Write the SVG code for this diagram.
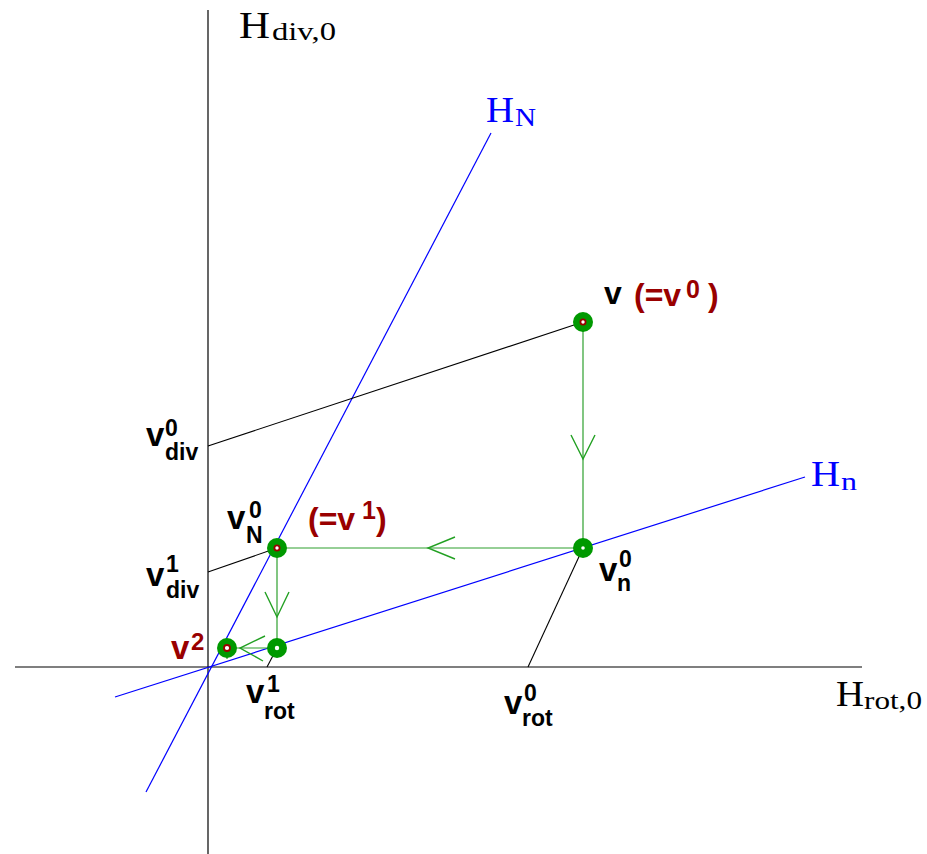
<svg xmlns="http://www.w3.org/2000/svg" width="927" height="854" viewBox="0 0 927 854">
<style>
.ax{stroke:#000;stroke-width:1.2;fill:none}
.bl{stroke:#0000ff;stroke-width:1.2;fill:none}
.pr{stroke:#000;stroke-width:1.1;fill:none}
.gl{stroke:#2ea02e;stroke-width:1.2;fill:none}
.ch{stroke:#22a022;stroke-width:1.4;fill:none}
.pt{fill:#009900}
.rr{fill:#fff;stroke:#990000;stroke-width:1.8}
.wd{fill:#fff}
.tm{font-family:"Liberation Serif","Times New Roman",serif}
.sb{font-family:"Liberation Sans",Arial,sans-serif;font-weight:bold}
.dr{fill:#990000}
</style>
<rect width="927" height="854" fill="#fff"/>
<g id="connectors">
  <line class="ax" x1="208" y1="10" x2="208" y2="854"/>
  <line class="ax" x1="15" y1="667" x2="862" y2="667"/>
  <line class="bl" x1="146" y1="792" x2="491" y2="133"/>
  <line class="bl" x1="115" y1="697" x2="805" y2="477"/>
  <line class="pr" x1="208" y1="446" x2="583" y2="322"/>
  <line class="pr" x1="208" y1="572" x2="277" y2="548"/>
  <line class="pr" x1="583" y1="548" x2="528" y2="667"/>
  <line class="pr" x1="277" y1="648" x2="267" y2="667"/>
  <line class="gl" x1="583" y1="322" x2="583" y2="548"/>
  <line class="gl" x1="583" y1="548" x2="277" y2="548"/>
  <line class="gl" x1="277" y1="548" x2="277" y2="648"/>
  <line class="gl" x1="277" y1="648" x2="227" y2="648"/>
  <line class="gl" x1="227" y1="648" x2="227" y2="659"/>
  <polyline class="ch" points="571,435 583,459 595,435"/>
  <polyline class="ch" points="455,537 428,548 455,559"/>
  <polyline class="ch" points="265,592 277,617 289,592"/>
  <polyline class="ch" points="265,636 240,648 263,661"/>
</g>
<g id="v0"><circle class="pt" cx="583" cy="322" r="10"/><circle class="rr" cx="583" cy="322" r="2.6"/></g>
<g id="vn0"><circle class="pt" cx="583" cy="548" r="10"/><circle class="wd" cx="583" cy="548" r="1.8"/></g>
<g id="vN0"><circle class="pt" cx="277" cy="548" r="10"/><circle class="rr" cx="277" cy="548" r="2.6"/></g>
<g id="v1n"><circle class="pt" cx="277" cy="648" r="10"/><circle class="wd" cx="277" cy="648" r="2.2"/></g>
<g id="v2"><circle class="pt" cx="227" cy="648" r="10"/><circle class="rr" cx="227" cy="648" r="3"/></g>
<g id="labels">
  <text class="tm" x="239" y="38" font-size="37" textLength="31" lengthAdjust="spacingAndGlyphs">H</text>
  <text class="tm" x="272" y="40" font-size="26" textLength="64" lengthAdjust="spacingAndGlyphs">div,0</text>
  <text class="tm" x="836" y="706" font-size="35" textLength="28" lengthAdjust="spacingAndGlyphs">H</text>
  <text class="tm" x="864" y="709" font-size="25" textLength="58" lengthAdjust="spacingAndGlyphs">rot,0</text>
  <text class="tm" x="486" y="122" font-size="35" textLength="28" lengthAdjust="spacingAndGlyphs" fill="#0000ff">H</text>
  <text class="tm" x="515" y="126" font-size="25" textLength="21" lengthAdjust="spacingAndGlyphs" fill="#0000ff">N</text>
  <text class="tm" x="811" y="486" font-size="35" textLength="29" lengthAdjust="spacingAndGlyphs" fill="#0000ff">H</text>
  <text class="tm" x="841" y="490" font-size="25" textLength="16" lengthAdjust="spacingAndGlyphs" fill="#0000ff">n</text>

  <text class="sb" x="604" y="304" font-size="32">v</text>
  <text class="sb dr" x="634" y="306" font-size="32">(=v</text>
  <text class="sb dr" x="686" y="298" font-size="25">0</text>
  <text class="sb dr" x="708" y="306" font-size="32">)</text>

  <text class="sb" x="146" y="446" font-size="33">v</text>
  <text class="sb" x="165" y="436" font-size="23">0</text>
  <text class="sb" x="165" y="460" font-size="23">div</text>

  <text class="sb" x="146" y="586" font-size="33">v</text>
  <text class="sb" x="166" y="572" font-size="23">1</text>
  <text class="sb" x="166" y="598" font-size="23">div</text>

  <text class="sb" x="227" y="529" font-size="33">v</text>
  <text class="sb" x="249" y="518" font-size="23">0</text>
  <text class="sb" x="246" y="543" font-size="23">N</text>

  <text class="sb dr" x="308" y="530" font-size="32">(=v</text>
  <text class="sb dr" x="362" y="519" font-size="25">1</text>
  <text class="sb dr" x="376" y="530" font-size="32">)</text>

  <text class="sb dr" x="171" y="659" font-size="33">v</text>
  <text class="sb dr" x="191" y="650" font-size="24">2</text>

  <text class="sb" x="599" y="581" font-size="33">v</text>
  <text class="sb" x="619" y="567" font-size="23">0</text>
  <text class="sb" x="617" y="591" font-size="23">n</text>

  <text class="sb" x="246" y="703" font-size="33">v</text>
  <text class="sb" x="267" y="692" font-size="23">1</text>
  <text class="sb" x="264" y="719" font-size="23">rot</text>

  <text class="sb" x="504" y="714" font-size="33">v</text>
  <text class="sb" x="524" y="701" font-size="23">0</text>
  <text class="sb" x="522" y="726" font-size="23">rot</text>
</g>
</svg>
